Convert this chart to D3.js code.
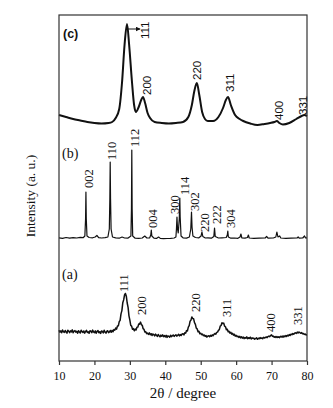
<!DOCTYPE html>
<html>
<head>
<meta charset="utf-8">
<script src="https://cdn.jsdelivr.net/npm/d3@7"></script>
<style>
  body { margin:0; background:#fff; }
  svg text { fill:#111; }
</style>
</head>
<body>
<div id="chart"></div>
<script>
/* XRD patterns (a), (b), (c) stacked, intensity in arbitrary units */

const XTICKS = [10, 20, 30, 40, 50, 60, 70, 80];

// (a) noisy scan, one value every 0.25 deg from 10 to 80
const A_START = 10, A_STEP = 0.25;
const A_VALUES = [
  6.8, 4.9, 6.1, 4.2, 7.0, 5.3, 4.6, 6.5, 5.0, 3.9, 6.7, 5.8, 4.4, 6.2, 5.1, 7.1, 4.3, 5.9, 6.4, 4.8,
  5.7, 3.8, 6.3, 5.0, 4.1, 6.8, 5.4, 4.6, 6.0, 3.9, 5.5, 6.6, 4.5, 5.2, 3.7, 6.2, 5.8, 4.3, 6.9, 5.1,
  4.4, 6.1, 3.8, 5.6, 6.4, 4.2, 5.3, 3.6, 6.0, 5.5, 4.1, 6.7, 4.9, 3.9, 5.8, 6.2, 4.4, 5.1, 6.5, 4.7,
  6.6, 5.2, 7.4, 6.8, 9.1, 7.9, 11.0, 11.2, 15.3, 16.6, 23.1, 26.4, 34.2, 37.1, 42.0, 43.5, 40.8, 34.0, 29.6, 21.2,
  16.8, 11.6, 10.9, 7.7, 8.4, 6.2, 7.9, 7.1, 9.8, 9.9, 13.0, 12.8, 14.9, 12.4, 11.7, 8.3, 7.6, 4.9, 5.2, 3.4,
  3.9, 2.6, 4.1, 2.2, 3.3, 1.5, 3.0, 2.4, 1.1, 2.9, 1.8, 0.6, 2.5, 1.3, 0.2, 1.9, 0.8, 2.1, 0.3, 1.4,
  0.1, 1.6, -0.4, 1.2, 0.7, -0.2, 1.8, 0.4, 1.3, 2.0, 0.6, 1.5, 2.3, 0.9, 1.7, 2.6, 1.1, 2.4, 1.6, 3.0,
  3.2, 2.1, 4.3, 3.8, 6.4, 6.1, 9.9, 11.3, 15.8, 16.9, 20.1, 18.4, 18.2, 14.3, 12.6, 8.8, 8.1, 5.3, 5.7, 3.3,
  3.8, 2.4, 2.9, 1.3, 2.0, 0.6, 1.4, -0.1, 0.9, 1.2, 0.2, 1.6, 0.7, 2.1, 1.3, 2.6, 3.5, 2.8, 4.6, 4.9,
  6.7, 7.4, 10.8, 11.5, 14.3, 13.4, 13.9, 10.8, 10.2, 7.3, 7.8, 5.2, 5.6, 3.9, 4.8, 2.9, 3.6, 1.8, 2.7, 0.9,
  1.6, 0.3, 0.9, -0.4, 0.6, -0.9, 0.2, -1.1, -0.1, -1.6, -0.5, -1.2, 0.1, -1.8, -0.7, -1.4, -0.2, -2.0, -0.9, -1.5,
  -1.1, -2.2, -1.5, -0.8, -2.3, -1.2, -1.8, -0.6, -1.5, -0.9, -1.7, -0.3, -1.0, -0.5, 0.1, -0.6, 0.4, 0.9, 0.3, 1.6,
  2.1, 0.6, 0.9, -0.3, 0.5, -0.5, 0.4, -0.4, 0.2, -0.6, 0.7, 0.0, 0.9, -0.2, 1.1, 0.3, 1.4, 0.6, 1.8, 1.1,
  2.4, 1.6, 2.9, 2.3, 3.5, 2.7, 3.8, 4.2, 3.6, 4.9, 4.1, 5.0, 4.3, 3.7, 4.4, 3.2, 3.5, 2.6, 2.9, 2.1,
  2.3
];

// (b) sharp-peak pattern, [2theta, intensity]
const B_POINTS = [
  [10,1.2],[11,0.6],[12,1.5],[13,0.8],[14,1.4],[15,1.0],[16,1.7],[16.8,1.3],
  [17.3,3],[17.5,20],[17.6,47],[17.7,20],[17.9,3],[18.5,1.5],[19.5,1.2],
  [20.2,2],[20.7,3.5],[21.2,1.4],[22,1.0],[23,1.3],[23.8,2],
  [24.2,10],[24.35,40],[24.45,77],[24.55,40],[24.7,10],[25.1,2],
  [26,1.2],[27,0.8],[27.8,2],[28.5,1],[29.5,0.9],
  [30.3,3],[30.45,30],[30.55,89],[30.65,30],[30.8,3],
  [31.5,0.8],[32.5,0.6],[33.5,1],[34.2,3],[34.8,1],
  [35.6,1.2],[35.9,4],[36.05,9],[36.2,3],[36.8,0.8],[37.5,0.6],[38.1,2],[38.6,0.6],
  [39.5,0.4],[40.5,0.5],[41.5,0.7],[42.5,1],
  [43.0,2],[43.15,10],[43.3,22],[43.45,10],[43.65,6],[43.95,20],[44.1,41],[44.2,22],[44.45,3],
  [45,1.2],[46,0.9],[46.8,2],[47.2,10],[47.4,27],[47.55,12],[47.8,3],
  [48.5,1.5],[49.5,1.2],[50.1,3],[50.35,7],[50.6,2.5],[51.3,1],[52,1.2],[53,0.8],
  [53.7,2.5],[53.9,11],[54.1,2.5],[55,1],[56,1.2],
  [57.2,1.5],[57.5,4],[57.65,8],[57.8,2],[58.5,0.8],[59.5,1],[60.5,0.7],
  [61.1,2],[61.35,5],[61.6,1.2],[62.5,0.8],[63.2,1.5],[63.45,4],[63.7,1],
  [65,0.6],[66.5,0.8],[68.2,1],[68.6,2.5],[69.0,0.8],[70.5,1],
  [71.2,2],[71.5,7],[71.8,2],[72.3,3],[72.6,1],[74,0.7],[75.5,0.8],
  [77.2,1],[77.5,2],[77.8,0.8],[78.8,1],[79.3,3],[79.6,1],[80,1.2]
];

// (c) broad-peak pattern, [2theta, intensity]
const C_POINTS = [
  [10,10],[12,8],[14,6],[16,4.5],[18,3],[20,2],[22,1.5],[24,2],[25,3],[26,7],
  [27,16],[27.8,43],[28.5,80],[29.2,101],[29.8,80],[30.6,43],[31.2,20],[31.7,13],
  [32.5,18],[33.2,25],[33.7,28],[34.3,22],[35,12],[35.7,7],[37,3],[39,2],[41,1.5],
  [43,2],[45,3],[46.5,8],[47.5,20],[48.2,34],[48.9,42],[49.6,30],[50.4,13],[51.2,6],
  [52,4],[53.5,4],[55,8],[56.3,17],[57.1,25],[57.7,28],[58.5,20],[59.7,10],[61,6],
  [62,4],[64,1.5],[66,0],[68,1],[69.6,2],[70.8,3],[71.5,4],[72.2,2],[73.2,0.5],
  [75,2],[77,6],[78.5,9],[79.2,10],[80,9]
];

// reflection labels: [hkl, 2theta, intensity where the label starts]
const A_LABELS = [["111",28.2,45],["200",33.2,22],["220",48.5,25],["311",57.4,20],["400",69.6,5],["331",77.3,12]];
const B_LABELS = [["002",18.3,51],["110",24.8,79],["112",31.4,92],["004",36.5,11],["300",42.7,25],
                  ["114",45.5,44],["302",48.4,28],["220",51.2,7],["222",54.6,15],["304",58.5,11]];
const C_LABELS = [["200",34.8,30],["220",49.0,45],["311",58.3,33],["400",72.1,5],["331",78.9,10]];
const C_ARROW_LABEL = ["111", 34.3, 86];

const W = 333, H = 408, M = {top:15, right:26, bottom:47, left:59};
const IW = W - M.left - M.right, IH = H - M.top - M.bottom;

const x = d3.scaleLinear().domain([10, 80]).range([M.left, M.left + IW]);
const y = d3.scaleLinear().domain([0, 346]).range([M.top + IH, M.top]);

// vertical offsets of the stacked patterns
const OFF = {a:24, b:122, c:236};

const svg = d3.select("#chart").append("svg").attr("width", W).attr("height", H);
const serif = "'Liberation Serif','DejaVu Serif',serif";
const sans = "'Liberation Sans',Arial,sans-serif";

/* ---------- curves ---------- */
const lineA = d3.line().x((d,i)=>x(A_START + i*A_STEP)).y(d=>y(d + OFF.a));
const lineB = d3.line().x(d=>x(d[0])).y(d=>y(d[1] + OFF.b));
const lineC = d3.line().x(d=>x(d[0])).y(d=>y(d[1] + OFF.c)).curve(d3.curveMonotoneX);

svg.append("path").attr("d", lineA(A_VALUES)).attr("fill","none")
   .attr("stroke","#111").attr("stroke-width",1.5).attr("stroke-linejoin","round");
svg.append("path").attr("d", lineB(B_POINTS)).attr("fill","none")
   .attr("stroke","#111").attr("stroke-width",1.2).attr("stroke-linejoin","round");
svg.append("path").attr("d", lineC(C_POINTS)).attr("fill","none")
   .attr("stroke","#111").attr("stroke-width",2).attr("stroke-linejoin","round");

/* ---------- frame + axis ---------- */
svg.append("rect").attr("x",M.left).attr("y",M.top).attr("width",IW).attr("height",IH)
   .attr("fill","none").attr("stroke","#333").attr("stroke-width",1.2);

const xAxis = svg.append("g").attr("transform",`translate(0,${M.top+IH})`)
   .call(d3.axisBottom(x).tickValues(XTICKS).tickSize(4).tickPadding(6).tickFormat(d3.format("d")));
xAxis.select(".domain").remove();
xAxis.selectAll("line").attr("stroke","#333").attr("stroke-width",1.2);
xAxis.selectAll("text").style("font-family",serif).style("font-size","12px").attr("fill","#111");

svg.append("text").attr("x", M.left + IW/2).attr("y", 398).attr("text-anchor","middle")
   .style("font-family",serif).style("font-size","15px").text("2θ / degree");

svg.append("text").attr("transform",`translate(35,${M.top + IH/2 + 8}) rotate(-90)`)
   .attr("text-anchor","middle").style("font-family",serif).style("font-size","13.5px")
   .text("Intensity (a. u.)");

/* ---------- panel tags ---------- */
svg.append("text").attr("x",63).attr("y",38).style("font-family",sans).style("font-weight","bold")
   .style("font-size","12.5px").text("(c)");
svg.append("text").attr("x",62).attr("y",158).style("font-family",serif)
   .style("font-size","14px").text("(b)");
svg.append("text").attr("x",62).attr("y",279).style("font-family",serif)
   .style("font-size","14px").text("(a)");

/* ---------- reflection labels ---------- */
function labels(list, off, font, size){
  svg.append("g").selectAll("text").data(list).enter().append("text")
    .attr("transform", d=>`translate(${x(d[1])},${y(d[2] + off)}) rotate(-90)`)
    .attr("dy","0.35em").attr("text-anchor","start")
    .style("font-family",font).style("font-size",size)
    .text(d=>d[0]);
}
labels(A_LABELS, OFF.a, serif, "12.5px");
labels(B_LABELS, OFF.b, serif, "12.5px");
labels(C_LABELS, OFF.c, sans, "11.5px");
labels([C_ARROW_LABEL], OFF.c, sans, "11.5px");

// arrow from the (c) 111 peak to its label
const peakC = C_POINTS.find(d=>d[0]===29.2);
const ay = y(peakC[1] + OFF.c) + 5;
svg.append("defs").append("marker").attr("id","arr").attr("viewBox","0 0 10 10")
   .attr("refX",9).attr("refY",5).attr("markerWidth",5).attr("markerHeight",5).attr("orient","auto")
   .append("path").attr("d","M0,0L10,5L0,10Z").attr("fill","#111");
svg.append("line").attr("x1",x(peakC[0])+1).attr("x2",x(C_ARROW_LABEL[1])-5)
   .attr("y1",ay).attr("y2",ay).attr("stroke","#111").attr("stroke-width",1)
   .attr("marker-end","url(#arr)");
</script>
</body>
</html>
